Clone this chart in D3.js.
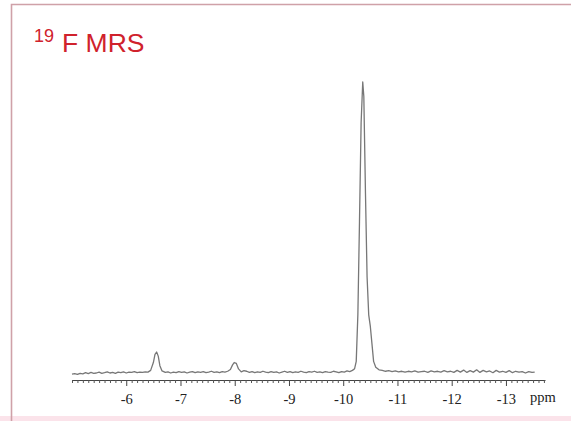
<!DOCTYPE html>
<html>
<head>
<meta charset="utf-8">
<script src="https://cdnjs.cloudflare.com/ajax/libs/d3/7.8.5/d3.min.js"></script>
<style>
  html,body{margin:0;padding:0;background:#fff;}
  svg{display:block;}
</style>
</head>
<body>
<div id="chart"></div>
<script>
// chemical shift (ppm) and signal intensity
var ppmValues = [
  -5.00,-5.05,-5.10,-5.15,-5.20,-5.25,-5.30,-5.35,-5.40,-5.45,
  -5.50,-5.55,-5.60,-5.65,-5.70,-5.75,-5.80,-5.85,-5.90,-5.95,
  -6.00,-6.05,-6.10,-6.15,-6.20,-6.25,-6.30,-6.35,-6.40,-6.45,
  -6.50,-6.53,-6.56,-6.59,-6.62,-6.66,-6.72,-6.77,-6.82,-6.87,
  -6.92,-6.97,-7.02,-7.07,-7.12,-7.17,-7.22,-7.27,-7.32,-7.37,
  -7.42,-7.47,-7.52,-7.57,-7.62,-7.67,-7.72,-7.77,-7.82,-7.87,
  -7.92,-7.96,-7.99,-8.03,-8.07,-8.12,-8.17,-8.22,-8.27,-8.32,
  -8.37,-8.42,-8.47,-8.52,-8.57,-8.62,-8.67,-8.72,-8.77,-8.82,
  -8.87,-8.92,-8.97,-9.02,-9.07,-9.12,-9.17,-9.22,-9.27,-9.32,
  -9.37,-9.42,-9.47,-9.52,-9.57,-9.62,-9.67,-9.72,-9.77,-9.82,
  -9.87,-9.92,-9.97,-10.02,-10.07,-10.12,-10.17,-10.21,-10.24,-10.27,
  -10.30,-10.33,-10.36,-10.38,-10.41,-10.44,-10.47,-10.50,-10.53,-10.56,
  -10.60,-10.66,-10.72,-10.78,-10.84,-10.90,-10.96,-11.02,-11.08,-11.14,
  -11.20,-11.26,-11.32,-11.38,-11.44,-11.50,-11.56,-11.62,-11.68,-11.74,
  -11.80,-11.86,-11.92,-11.98,-12.04,-12.10,-12.16,-12.22,-12.28,-12.34,
  -12.40,-12.46,-12.52,-12.58,-12.64,-12.70,-12.76,-12.82,-12.88,-12.94,
  -13.00,-13.06,-13.12,-13.18,-13.24,-13.30,-13.36,-13.42,-13.48,-13.53
];
var intensityValues = [
  -0.4,-0.2,-0.5,-0.1,-0.3,0.1,-0.2,0.2,-0.1,0.0,
  0.3,-0.1,0.1,0.4,0.0,0.2,-0.1,0.3,0.1,0.4,
  0.0,0.3,0.2,0.5,0.1,0.3,0.2,0.4,0.3,0.9,
  3.6,6.4,7.2,5.8,2.5,0.7,0.2,0.4,0.0,0.3,
  0.1,0.5,0.2,0.4,0.0,0.3,0.5,0.1,0.4,0.2,
  0.5,0.1,0.3,0.6,0.2,0.4,0.1,0.5,0.3,0.6,
  1.2,2.8,3.6,3.3,1.4,0.4,0.8,0.6,0.2,0.5,
  0.1,0.4,0.2,0.6,0.3,0.1,0.5,0.2,0.4,0.0,
  0.3,0.6,0.2,0.5,0.1,0.4,0.2,0.6,0.3,0.1,
  0.5,0.3,0.6,0.2,0.4,0.1,0.5,0.3,0.2,0.6,
  0.4,0.1,0.5,0.3,0.7,0.5,0.9,1.5,4.0,20,
  52,86,100,95,62,33,20,16,10,4.0,
  2.0,1.1,0.9,0.6,0.8,0.5,0.7,0.4,0.6,0.3,
  0.6,0.4,0.7,0.3,0.5,0.6,0.2,0.7,0.4,0.6,
  0.3,0.8,0.4,0.6,0.2,0.9,0.3,1.0,0.2,0.8,
  0.3,1.1,0.2,0.9,0.4,0.7,0.1,0.9,0.3,0.6,
  0.2,0.8,0.1,0.6,0.3,0.5,0.0,0.5,0.2,0.3
];
var majorTicks = [-6,-7,-8,-9,-10,-11,-12,-13];
var tickLabels = ['-6','-7','-8','-9','-10','-11','-12','-13'];
var unitLabel = 'ppm';
var titleSup = '19';
var titleMain = 'F MRS';

var width = 571, height = 421;
var axisY = 380;

var svg = d3.select('#chart').append('svg')
    .attr('width',width)
    .attr('height',height);

svg.append('rect')
    .attr('x',0).attr('y',0)
    .attr('width',width).attr('height',height)
    .attr('fill','#fff');

// frame
svg.append('rect')
    .attr('x',0).attr('y',416)
    .attr('width',width).attr('height',5)
    .attr('fill','#fbe3ea');
svg.append('path')
    .attr('d','M11.5,421 V4.5 H'+width)
    .attr('fill','none')
    .attr('stroke','#cfa1a8')
    .attr('stroke-width',1.6);

// title
var title = svg.append('text')
    .attr('x',34)
    .attr('y',52)
    .attr('fill','#d0222c')
    .attr('font-family','Liberation Sans, Arial, sans-serif');
title.append('tspan')
    .attr('font-size','18px')
    .attr('dy','-10')
    .text(titleSup);
title.append('tspan')
    .attr('font-size','26.5px')
    .attr('dx','8')
    .attr('dy','10')
    .text(titleMain);

var x = d3.scaleLinear().domain([-5.0,-13.72]).range([72,545]);
var y = d3.scaleLinear().domain([0,100]).range([373,82]);

// minor ticks
var minorTicks = d3.range(-50,-138,-1).map(function(d){return d/10;})
    .filter(function(d){return majorTicks.indexOf(d)<0;});

var minorAxis = d3.axisBottom(x)
    .tickValues(minorTicks)
    .tickSize(3)
    .tickSizeOuter(0)
    .tickFormat('');
var gMinor = svg.append('g')
    .attr('transform','translate(0,'+axisY+')')
    .call(minorAxis);
gMinor.select('.domain').attr('stroke','#444').attr('stroke-width',1.1);
gMinor.selectAll('.tick line').attr('stroke','#555');

var majorAxis = d3.axisBottom(x)
    .tickValues(majorTicks)
    .tickSize(6)
    .tickSizeOuter(0)
    .tickPadding(8)
    .tickFormat(function(d,i){return tickLabels[i];});
var gMajor = svg.append('g')
    .attr('transform','translate(0,'+axisY+')')
    .call(majorAxis);
gMajor.select('.domain').remove();
gMajor.selectAll('.tick line').attr('stroke','#444');
gMajor.selectAll('.tick text')
    .attr('fill','#222')
    .attr('font-family','Liberation Serif, Times New Roman, serif')
    .attr('font-size','14.5px');

svg.append('text')
    .text(unitLabel)
    .attr('x',530)
    .attr('y',402)
    .attr('fill','#222')
    .attr('font-family','Liberation Serif, Times New Roman, serif')
    .attr('font-size','14.5px');

// spectrum
var points = ppmValues.map(function(d,i){return [d,intensityValues[i]];});
var line = d3.line()
    .x(function(d){return x(d[0]);})
    .y(function(d){return y(d[1]);});

svg.append('path')
    .datum(points)
    .attr('d',line)
    .attr('fill','none')
    .attr('stroke','#777')
    .attr('stroke-width',1.3)
    .attr('stroke-linejoin','round');
</script>
</body>
</html>
